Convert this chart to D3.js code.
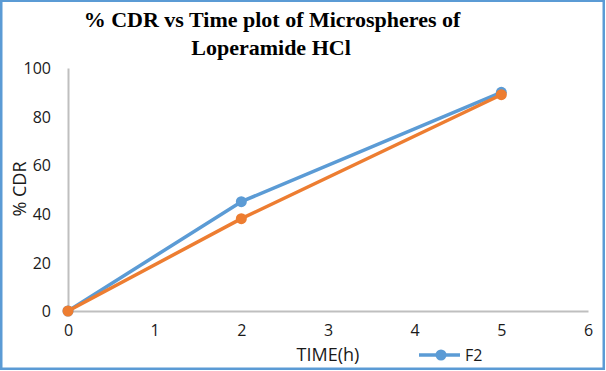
<!DOCTYPE html>
<html>
<head>
<meta charset="utf-8">
<script src="https://cdn.jsdelivr.net/npm/d3@7"></script>
<style>
  body { margin: 0; background: #fff; }
  svg { display: block; }
</style>
</head>
<body>
<div id="chart"></div>
<script>
// data
const timeHours = [0, 2, 5];
const cdrF2 = [0, 45, 90];
const cdrOther = [0, 38, 89];
const xTicks = [0, 1, 2, 3, 4, 5, 6];
const yTicks = [0, 20, 40, 60, 80, 100];

const W = 606, H = 371;
const plot = {left: 68, right: 588, top: 68, bottom: 311};
const labelFont = '"Open Sans", "Noto Sans", sans-serif';

const svg = d3.select('#chart')
    .append('svg')
    .attr('width', W)
    .attr('height', H);

// border
svg.append('rect')
    .attr('x', 1.25).attr('y', 0.75)
    .attr('width', W - 3.5).attr('height', H - 3)
    .attr('fill', '#fff')
    .attr('stroke', '#5B9BD5')
    .attr('stroke-width', 2.5);

const x = d3.scaleLinear().domain([0, 6]).range([plot.left, plot.right]);
const y = d3.scaleLinear().domain([0, 100]).range([plot.bottom, plot.top]);

// title
const title = svg.append('text')
    .attr('text-anchor', 'middle')
    .attr('font-family', '"Liberation Serif", "Times New Roman", serif')
    .attr('font-weight', 'bold')
    .attr('font-size', 22)
    .attr('fill', '#000');
title.append('tspan').attr('x', 272).attr('y', 27).text('% CDR vs Time plot of Microspheres of');
title.append('tspan').attr('x', 271).attr('y', 55).text('Loperamide HCl');

// axes
const xAxis = svg.append('g')
    .attr('transform', `translate(0,${plot.bottom})`)
    .call(d3.axisBottom(x).tickValues(xTicks).tickFormat(d3.format('d')).tickSize(0).tickPadding(16));
const yAxis = svg.append('g')
    .attr('transform', `translate(${plot.left},0)`)
    .call(d3.axisLeft(y).tickValues(yTicks).tickFormat(d3.format('d')).tickSize(0).tickPadding(17));

[xAxis, yAxis].forEach(g => {
    g.select('.domain').attr('stroke', '#BFBFBF').attr('stroke-width', 2);
    g.selectAll('text')
        .attr('font-family', labelFont)
        .attr('font-size', 16)
        .attr('fill', '#1a1a1a');
});
yAxis.selectAll('text').attr('dy', '0.35em');
xAxis.selectAll('text').attr('dy', '0.55em');

// axis titles
svg.append('text')
    .attr('x', 328).attr('y', 361)
    .attr('text-anchor', 'middle')
    .attr('font-family', labelFont)
    .attr('font-size', 18)
    .attr('fill', '#1a1a1a')
    .text('TIME(h)');

svg.append('text')
    .attr('transform', 'translate(26,189) rotate(-90)')
    .attr('text-anchor', 'middle')
    .attr('font-family', labelFont)
    .attr('font-size', 18)
    .attr('fill', '#1a1a1a')
    .text('% CDR');

// series
const line = d3.line()
    .x(d => x(d[0]))
    .y(d => y(d[1]));

const series = [
    {name: 'F2', color: '#5B9BD5', values: cdrF2},
    {name: '', color: '#ED7D31', values: cdrOther}
];

series.forEach(s => {
    const pts = timeHours.map((t, i) => [t, s.values[i]]);
    svg.append('path')
        .datum(pts)
        .attr('fill', 'none')
        .attr('stroke', s.color)
        .attr('stroke-width', 3.5)
        .attr('stroke-linejoin', 'round')
        .attr('d', line);
    svg.selectAll(null)
        .data(pts)
        .enter()
        .append('circle')
        .attr('cx', d => x(d[0]))
        .attr('cy', d => y(d[1]))
        .attr('r', 5.5)
        .attr('fill', s.color);
});

// legend (only F2 visible)
const lg = svg.append('g').attr('transform', 'translate(419,355)');
lg.append('line')
    .attr('x1', 0).attr('x2', 41)
    .attr('stroke', '#5B9BD5')
    .attr('stroke-width', 3.5);
lg.append('circle')
    .attr('cx', 22).attr('r', 5.5)
    .attr('fill', '#5B9BD5');
lg.append('text')
    .attr('x', 46).attr('y', 6)
    .attr('font-family', labelFont)
    .attr('font-size', 16)
    .attr('fill', '#1a1a1a')
    .text('F2');
</script>
</body>
</html>
